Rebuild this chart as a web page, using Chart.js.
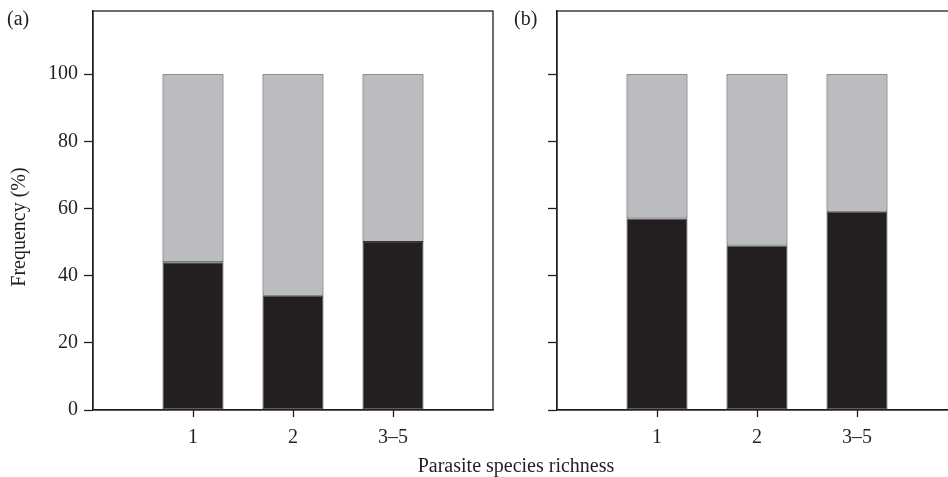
<!DOCTYPE html>
<html>
<head>
<meta charset="utf-8">
<script src="https://cdn.jsdelivr.net/npm/chart.js@4/dist/chart.umd.min.js"></script>
<style>
  html, body { margin: 0; padding: 0; background: #fff; }
  body { width: 948px; height: 477px; overflow: hidden; position: relative; font-family: "Liberation Serif", "DejaVu Serif", serif; color: #231f20; }
  .panel { position: absolute; top: 0; width: 500px; height: 477px; }
  .lbl { position: absolute; font-size: 20px; line-height: 20px; white-space: nowrap; }
</style>
</head>
<body>
<div class="panel" style="left:0"><canvas id="chartA"></canvas></div>
<div class="panel" style="left:464px"><canvas id="chartB"></canvas></div>
<div class="lbl" style="left:7px; top:8px">(a)</div>
<div class="lbl" style="left:514px; top:8px">(b)</div>
<div class="lbl" style="left:18px; top:227px; transform: translate(-50%, -50%) rotate(-90deg);">Frequency (%)</div>
<div class="lbl" style="left:516px; top:455px; transform: translateX(-50%);">Parasite species richness</div>
<script>
// empty slots at both ends keep the bars spaced like the original axis
const categories = ["", "1", "2", "3–5", ""];
const yTicks = [0, 20, 40, 60, 80, 100];

// black = lower part, grey = remainder up to 100 %
const blackA = [null, 44, 34, 50, null];
const greyA = [null, 56, 66, 50, null];
const blackB = [null, 57, 49, 59, null];
const greyB = [null, 43, 51, 41, null];

const INK = "#231f20";
const GREY = "#bbbcc0";

// draws the full frame around the plot area
const boxPlugin = {
  id: "box",
  afterDraw(chart) {
    const { ctx, chartArea: a } = chart;
    ctx.save();
    ctx.strokeStyle = INK;
    ctx.lineWidth = 1.3;
    ctx.strokeRect(a.left, a.top, a.right - a.left, a.bottom - a.top);
    ctx.restore();
  },
};

function makeChart(id, black, grey, showYLabels) {
  const font = { family: "'Liberation Serif', 'DejaVu Serif', serif", size: 20 };
  return new Chart(document.getElementById(id), {
    type: "bar",
    data: {
      labels: categories,
      datasets: [
        { data: black, backgroundColor: INK, borderColor: "#3a3a3a", borderWidth: 1, borderSkipped: false },
        { data: grey, backgroundColor: GREY, borderColor: "#333", borderWidth: 1, borderSkipped: false },
      ],
    },
    options: {
      responsive: true,
      maintainAspectRatio: false,
      animation: false,
      layout: { padding: { top: 11, right: 7, left: 0, bottom: 0 } },
      plugins: { legend: { display: false }, tooltip: { enabled: false } },
      datasets: { bar: { categoryPercentage: 1, barPercentage: 0.61 } },
      scales: {
        x: {
          stacked: true,
          offset: false,
          border: { display: true, color: INK, width: 1.3 },
          grid: {
            offset: false,
            drawOnChartArea: false,
            tickLength: 7,
            tickWidth: 1.3,
            tickColor: (c) => (c.index >= 1 && c.index <= 3 ? INK : "transparent"),
          },
          ticks: { color: INK, font: font, padding: 9, maxRotation: 0, autoSkip: false },
          afterFit: (s) => { s.height = 67; s.paddingLeft = 0; s.paddingRight = 0; },
        },
        y: {
          stacked: true,
          min: 0,
          max: 118.8,
          border: { display: true, color: INK, width: 1.3 },
          grid: { drawOnChartArea: false, tickLength: 9, tickWidth: 1.3, tickColor: INK },
          afterBuildTicks: (s) => { s.ticks = yTicks.map((v) => ({ value: v })); },
          ticks: { color: showYLabels ? INK : "transparent", font: font, padding: 6 },
          afterFit: (s) => { s.width = 93; s.paddingTop = 0; s.paddingBottom = 0; },
        },
      },
    },
    plugins: [boxPlugin],
  });
}

makeChart("chartA", blackA, greyA, true);
makeChart("chartB", blackB, greyB, false);
</script>
</body>
</html>
